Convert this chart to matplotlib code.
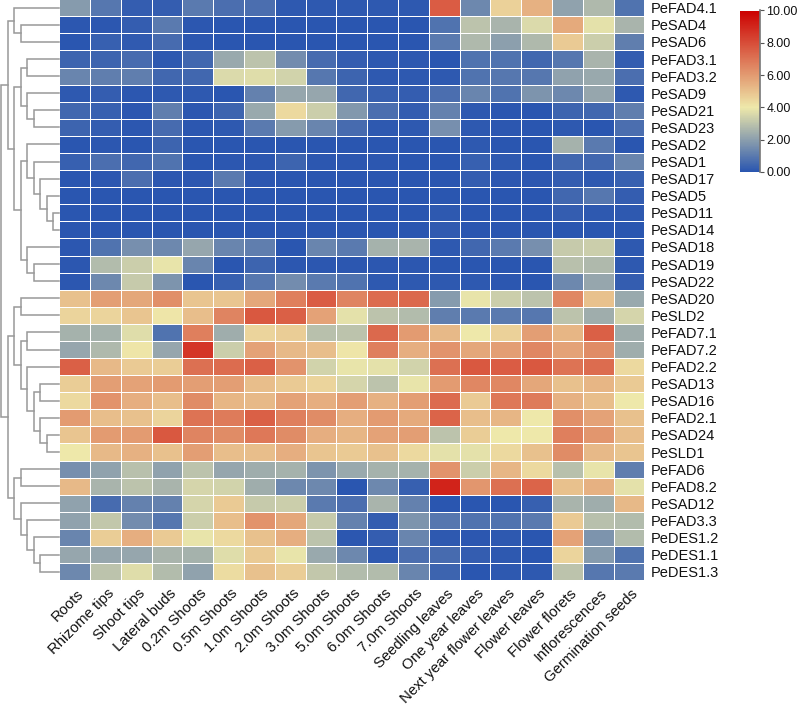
import numpy as np
import matplotlib
matplotlib.use("Agg")
import matplotlib.pyplot as plt
from matplotlib.colors import LinearSegmentedColormap, Normalize
from matplotlib.transforms import ScaledTranslation

plt.rcParams['font.family'] = ['Liberation Sans', 'DejaVu Sans']

tissues = ["Roots", "Rhizome tips", "Shoot tips", "Lateral buds", "0.2m Shoots", "0.5m Shoots",
           "1.0m Shoots", "2.0m Shoots", "3.0m Shoots", "5.0m Shoots", "6.0m Shoots", "7.0m Shoots",
           "Seedling leaves", "One year leaves", "Next year flower leaves", "Flower leaves",
           "Flower florets", "Inflorescences", "Germination seeds"]

genes = ["PeFAD4.1", "PeSAD4", "PeSAD6", "PeFAD3.1", "PeFAD3.2", "PeSAD9", "PeSAD21", "PeSAD23", "PeSAD2",
         "PeSAD1", "PeSAD17", "PeSAD5", "PeSAD11", "PeSAD14", "PeSAD18", "PeSAD19", "PeSAD22",
         "PeSAD20", "PeSLD2", "PeFAD7.1", "PeFAD7.2", "PeFAD2.2", "PeSAD13", "PeSAD16", "PeFAD2.1",
         "PeSAD24", "PeSLD1", "PeFAD6", "PeFAD8.2", "PeSAD12", "PeFAD3.3", "PeDES1.2", "PeDES1.1", "PeDES1.3"]

low_rows = [
    [1.9, .9, .2, .2, 1.0, .7, .7, .1, .1, .1, .1, .1, 7.6, 1.4, 4.6, 5.4, 2.1, 2.7, .8],
    [.05, .05, .2, 1.0, .05, 0, 0, 0, 0, 0, 0, 0, .8, 3.0, 2.6, 3.6, 5.6, 3.8, 2.6],
    [0, .3, .15, .6, .05, 0, 0, 0, 0, 0, 0, 0, 1.0, 2.7, 2.0, 2.7, 4.8, 3.3, 1.1],
    [.4, .4, .6, .1, .5, 2.3, 3.0, 1.5, .6, .2, .1, .1, 0, .8, .8, .5, .9, 2.6, .2],
    [1.3, 1.1, 1.1, .5, .5, 3.6, 3.7, 3.4, .9, .4, .1, .1, .1, .8, .9, .9, 2.1, 2.3, .7],
    [.1, .2, .05, .1, .1, 0, 1.2, 2.2, 2.2, .5, .3, .2, .7, 1.3, .8, 1.7, 1.4, 2.2, .1],
    [.5, .3, .05, 1.1, .05, .4, 2.3, 4.4, 3.3, 1.8, .7, .2, 1.2, .1, 0, 0, .4, .5, 1.1],
    [.4, .2, .05, .6, .05, .1, 1.0, 1.9, 1.3, .6, .1, .1, 1.6, .1, .05, 0, .1, 0, .7],
    [0, .05, 0, .4, 0, 0, 0, 0, 0, 0, 0, 0, 0, .1, 0, 0, 2.5, 1.0, 0],
    [.3, .7, .5, .8, 0, .05, .05, .4, .05, .05, .05, 0, 0, .3, .1, 0, .5, .5, 1.3],
    [0, .05, .7, .05, .05, 1.0, .05, 0, 0, 0, 0, 0, 0, .2, .05, .05, .2, .1, .3],
    [0, 0, 0, 0, 0, 0, 0, 0, 0, 0, 0, 0, 0, 0, 0, 0, .5, .9, .2],
    [0, 0, 0, 0, 0, 0, 0, 0, 0, 0, 0, 0, .1, 0, 0, 0, .2, .1, .1],
    [0, 0, 0, 0, 0, 0, 0, 0, 0, 0, 0, 0, .15, 0, 0, 0, 0, 0, 0],
    [.05, .8, 1.6, 1.4, 2.2, 1.3, 1.1, 0, 1.3, 1.0, 2.5, 2.6, .1, .5, 1.0, 1.6, 3.2, 3.3, .1],
    [.05, 2.8, 3.3, 3.9, 1.3, 0, .4, .05, .05, .05, .05, .05, 0, 0, 0, 0, 2.9, 2.7, .1],
    [.05, 1.4, 3.2, 1.7, 0, .3, .9, 1.5, 1.0, .8, .1, .1, .1, .1, .05, 0, 1.4, 2.2, .2],
]

high_rows = [
    [5.0, 5.9, 5.7, 6.3, 4.9, 4.9, 5.7, 6.7, 7.6, 6.6, 7.2, 7.3, 1.9, 3.9, 3.3, 3.0, 6.5, 5.0, 2.3],
    [4.5, 4.5, 4.9, 4.1, 5.1, 6.6, 7.7, 7.5, 5.8, 3.8, 3.0, 2.8, 1.1, 1.0, 1.0, .9, 3.0, 2.4, 3.5],
    [2.5, 2.5, 3.7, .8, 6.7, 2.4, 4.5, 4.7, 2.9, 3.0, 7.3, 6.0, 5.2, 4.0, 4.6, 5.9, 5.3, 7.5, 2.4],
    [2.2, 2.7, 4.1, 2.2, 8.6, 3.3, 5.8, 5.2, 5.1, 4.1, 6.7, 5.5, 6.2, 5.7, 5.9, 6.5, 5.8, 6.4, 2.4],
    [7.5, 5.2, 4.8, 4.7, 7.1, 7.2, 7.5, 6.2, 3.4, 3.9, 3.8, 3.4, 7.1, 7.7, 7.6, 7.7, 7.0, 7.2, 4.4],
    [4.7, 5.9, 5.8, 6.0, 5.9, 5.9, 5.1, 4.8, 4.5, 3.5, 3.0, 3.9, 6.0, 6.5, 6.5, 5.7, 5.0, 5.3, 4.8],
    [4.4, 6.2, 5.5, 5.1, 6.4, 5.3, 5.2, 5.8, 5.5, 5.9, 5.4, 5.9, 7.2, 4.8, 6.9, 6.8, 5.4, 5.1, 4.0],
    [6.0, 5.1, 5.0, 4.5, 7.0, 6.8, 7.5, 6.7, 6.4, 5.5, 6.0, 5.6, 7.4, 5.1, 5.3, 4.0, 6.3, 5.8, 5.0],
    [4.9, 6.0, 6.0, 7.7, 6.6, 6.4, 6.9, 6.4, 5.5, 5.3, 5.8, 5.9, 3.0, 4.7, 4.0, 4.0, 6.7, 6.1, 5.1],
    [4.0, 5.2, 5.4, 5.0, 5.9, 5.1, 5.1, 5.5, 4.9, 4.8, 5.0, 4.4, 3.8, 3.8, 4.4, 5.0, 6.4, 5.2, 4.9],
    [1.6, 2.1, 2.9, 2.1, 3.0, 2.2, 2.4, 2.5, 1.7, 2.3, 2.5, 2.5, 6.2, 3.3, 5.3, 4.4, 2.9, 3.9, 1.1],
    [5.2, 2.6, 3.0, 2.6, 3.5, 3.4, 2.4, 1.4, 1.4, 0, 1.4, .3, 9.1, 6.1, 7.1, 7.4, 5.0, 5.4, 3.8],
    [2.1, .6, 1.2, 1.2, 3.5, 4.8, 3.2, 3.3, 1.0, .7, 2.6, 1.2, 0, 0, 0, .3, 2.6, 2.4, 5.2],
    [2.1, 3.1, 1.5, .9, 3.3, 5.1, 6.2, 5.7, 3.2, 1.2, .2, 1.7, .9, .8, .8, 1.0, 4.8, 2.9, 2.8],
    [1.3, 4.7, 5.5, 4.8, 3.9, 4.4, 5.0, 5.5, 3.0, .05, .2, 1.3, .1, .05, .1, 0, 5.8, 1.7, 2.8],
    [2.2, 2.2, 2.2, 2.6, 2.5, 3.7, 4.8, 3.9, 2.3, 1.4, .1, .7, .6, .2, .1, 0, 4.5, 1.9, .8],
    [1.4, 3.0, 3.7, 2.8, 2.1, 4.3, 5.0, 4.7, 3.1, 2.8, 2.8, 1.3, .4, 0, .1, .1, 3.0, .9, 1.0],
]

# Row clustering as nested pairs of row numbers.
row_tree = (
    ((0, (1, 2)),
     (((3, 4), (5, (6, 7))),
      ((8, (9, (10, (11, (12, 13))))), (14, (15, 16))))),
    (((17, 18),
      ((19, 20), (21, ((22, 23), (24, (25, 26)))))),
     ((27, 28), (29, (30, (31, (32, 33)))))),
)

values = np.array(low_rows + high_rows, dtype=float)
cmap = LinearSegmentedColormap.from_list(
    "expr", [(0, "#2a56b0"), (0.4, "#eee8aa"), (1, "#cc0000")])
norm = Normalize(0, 10)

W, H = 798, 706
fig = plt.figure(figsize=(W / 100, H / 100), dpi=100, facecolor="white")


def px_axes(x0, y0, x1, y1):
    return fig.add_axes([x0 / W, 1 - y1 / H, (x1 - x0) / W, (y1 - y0) / H])


TOP, BOTTOM = -0.8, 580.2
ax = px_axes(59.3, TOP, 644.3, BOTTOM)
mesh = ax.pcolormesh(values, cmap=cmap, norm=norm, edgecolors="white", linewidth=0.5)
ax.set_xlim(0, len(tissues))
ax.set_ylim(len(genes), 0)
for s in ax.spines.values():
    s.set_visible(False)
ax.set_xticks(np.arange(len(tissues)) + 0.5)
ax.set_yticks(np.arange(len(genes)) + 0.5)
ax.set_xticklabels(tissues, rotation=45, ha="right", va="top", rotation_mode="anchor", fontsize=10.7)
ax.set_yticklabels(genes, fontsize=10.5)
ax.yaxis.tick_right()
ax.tick_params(length=0, colors="#111111")
ax.tick_params(axis="y", pad=5)
ax.tick_params(axis="x", pad=4.5)
shift = ScaledTranslation(2 / 100, 0, fig.dpi_scale_trans)
for lab in ax.get_xticklabels():
    lab.set_transform(lab.get_transform() + shift)

# dendrogram
dax = px_axes(1, TOP, 59.3, BOTTOM)
dax.set_xlim(0, 8.9)
dax.set_ylim(len(genes), 0)
dax.axis("off")


def draw(node, depth):
    if not isinstance(node, tuple):
        return node + 0.5, dax.get_xlim()[1]
    ya, xa = draw(node[0], depth + 1)
    yb, xb = draw(node[1], depth + 1)
    dax.plot([xa, depth, depth, xb], [ya, ya, yb, yb], color="#999999", lw=1.1,
             solid_joinstyle="miter", clip_on=False)
    return (ya + yb) / 2, depth


draw(row_tree, 0)

# colour bar
cax = px_axes(739.5, 10.5, 760, 172)
cb = fig.colorbar(mesh, cax=cax, ticks=[0, 2, 4, 6, 8, 10], format="%.2f")
cb.outline.set_visible(False)
cax.plot([1, 1], [0, 10], color="#777777", lw=1.2, clip_on=False)
cax.tick_params(labelsize=9, length=3, width=0.8, color="#555555", pad=1.5, labelcolor="#111111")

fig.savefig("out.png", dpi=100)
